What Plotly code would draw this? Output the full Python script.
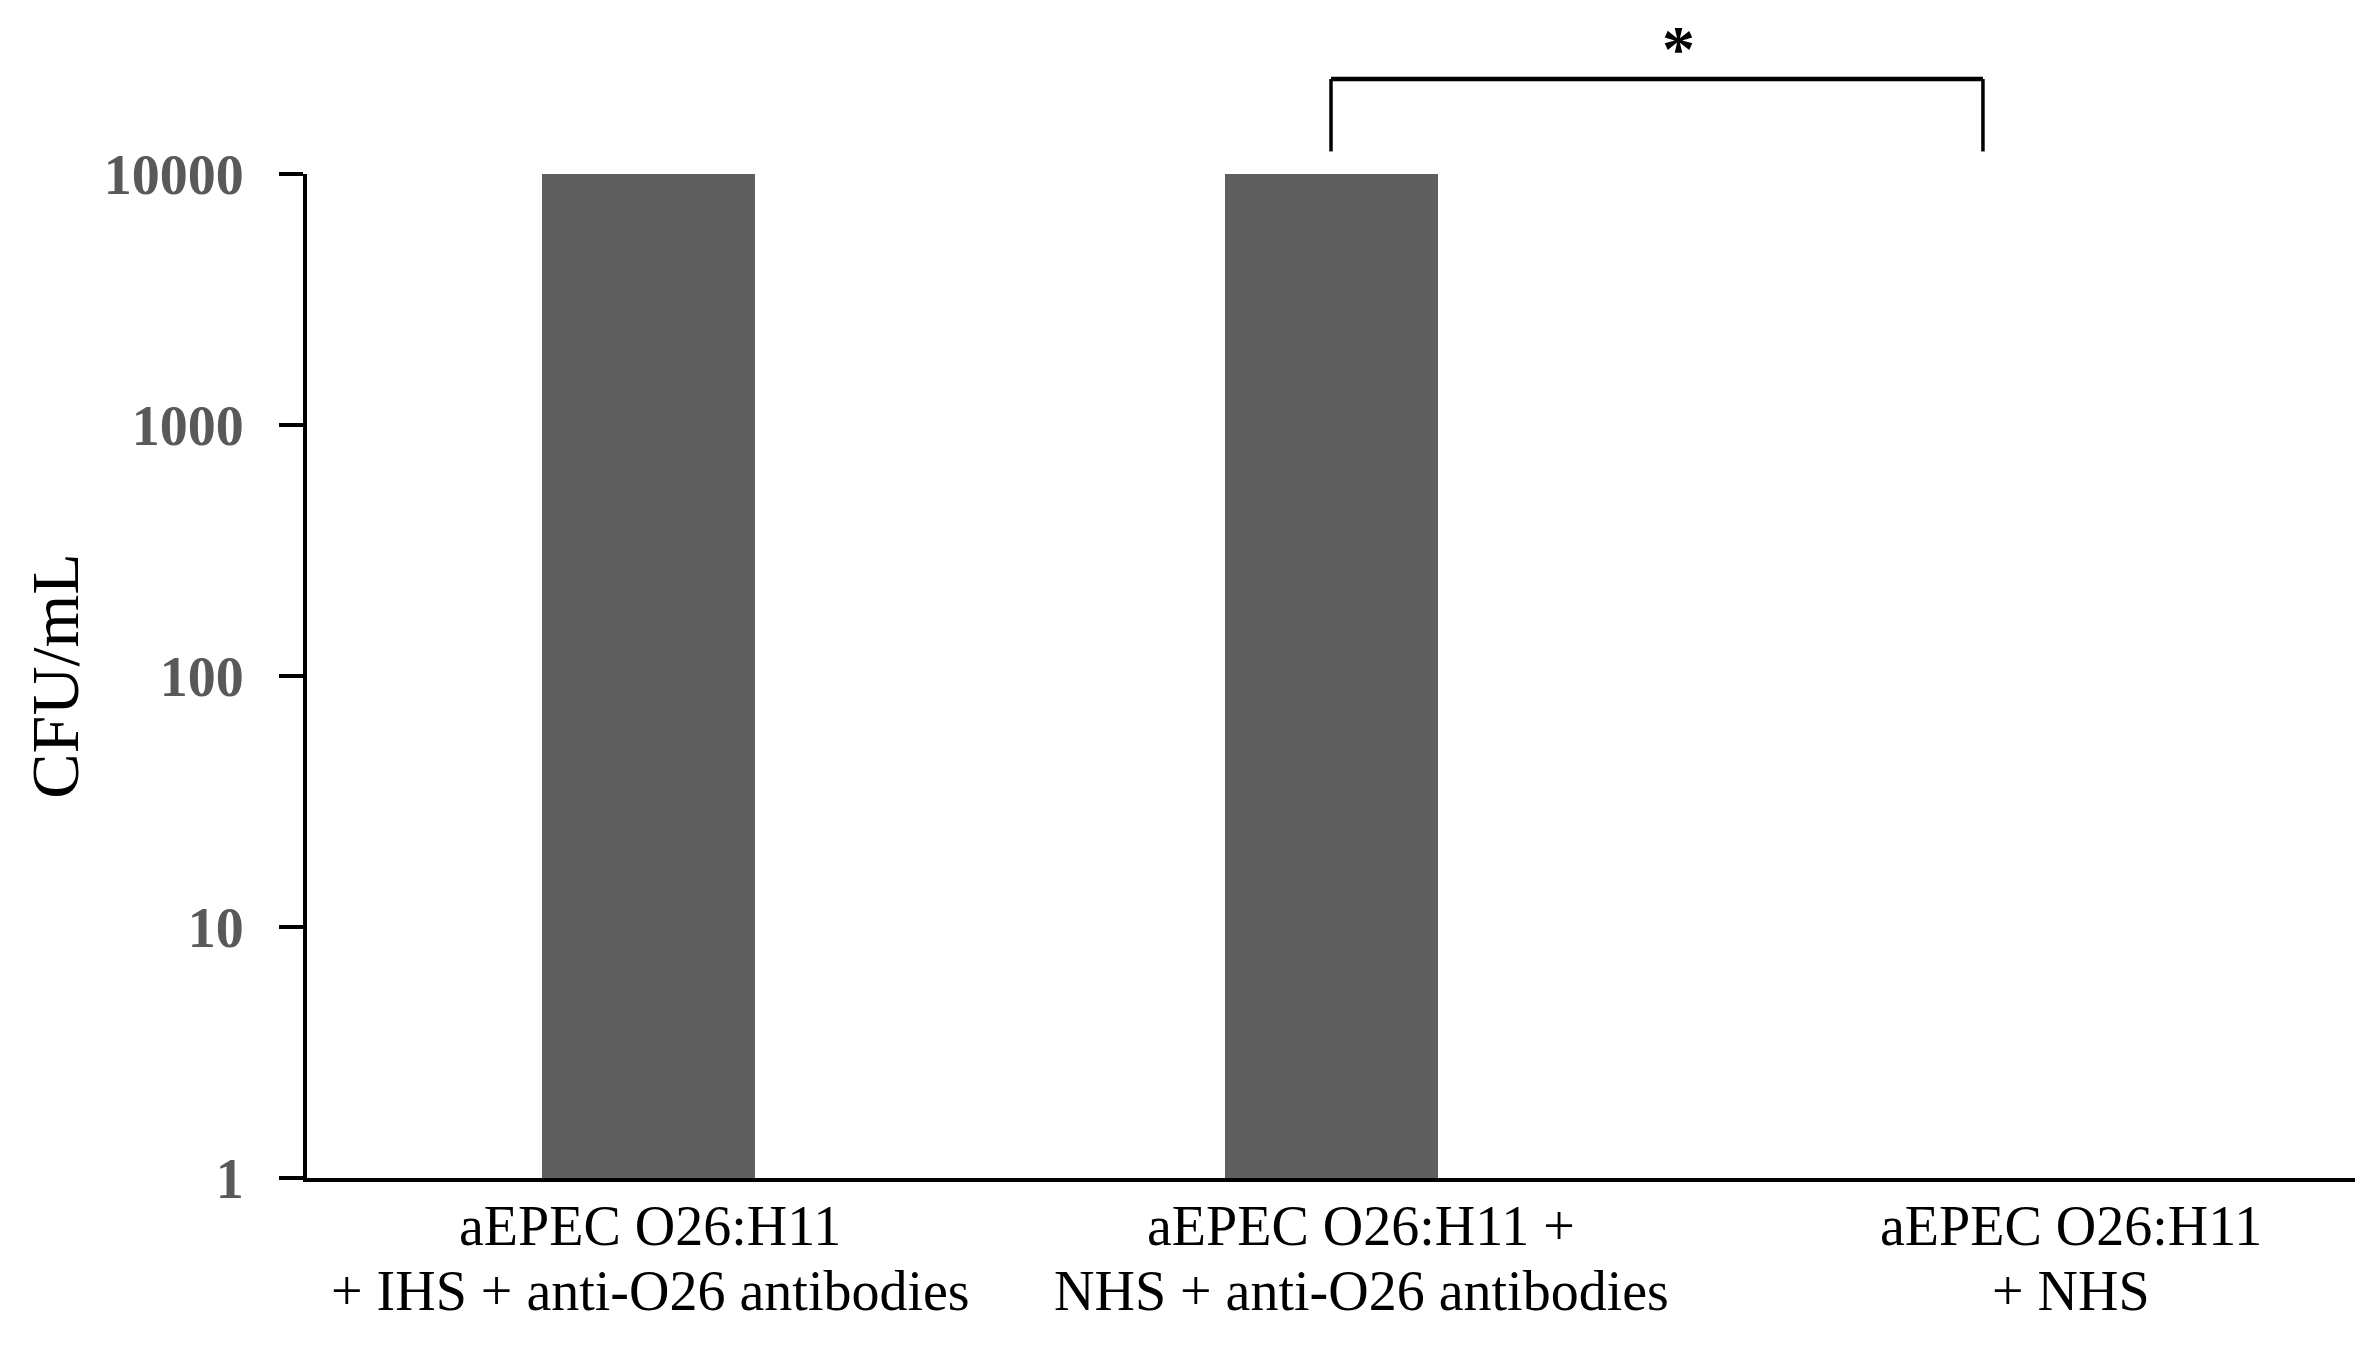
import math
import plotly.graph_objects as go

label_lines = [["aEPEC O26:H11", "+ IHS + anti-O26 antibodies"],
               ["aEPEC O26:H11 +", "NHS + anti-O26 antibodies"],
               ["aEPEC O26:H11", "+ NHS"]]
cfu_values = [10000, 10000, 0]
y_tick_vals = [1, 10, 100, 1000, 10000]
y_tick_text = ["1", "10", "100", "1000", "10000"]
bracket_x = [1.0, 1.955]          # category positions (index units)
bracket_y = [12300, 23900]        # bottom / top of bracket, CFU/mL
star_y = 31500
sig_label = "*"

# styling
label_xshift = [2, 30, 57]
line_yshift = [-48, -113]
Y_LOG_MIN, Y_LOG_MAX = 0, 4


def to_paper(v):
    return (math.log10(v) - Y_LOG_MIN) / (Y_LOG_MAX - Y_LOG_MIN)


x_idx = list(range(len(label_lines)))

fig = go.Figure()
fig.add_trace(go.Bar(
    x=x_idx, y=cfu_values, width=0.312,
    marker=dict(color="#5f5f5f", line=dict(width=0)),
    showlegend=False,
))

ylo, yhi = to_paper(bracket_y[0]), to_paper(bracket_y[1])
vline = dict(color="#000000", width=3.5)
fig.add_shape(type="line", xref="x", yref="paper", x0=bracket_x[0], x1=bracket_x[0], y0=ylo, y1=yhi, line=vline)
fig.add_shape(type="line", xref="x", yref="paper", x0=bracket_x[1], x1=bracket_x[1], y0=ylo, y1=yhi, line=vline)
fig.add_shape(type="line", xref="x", yref="paper", x0=bracket_x[0], x1=bracket_x[1], y0=yhi, y1=yhi,
              line=dict(color="#000000", width=4.5))

fig.add_annotation(x=sum(bracket_x) / 2, y=to_paper(star_y), xref="x", yref="paper",
                   text="<b>" + sig_label + "</b>", showarrow=False, yanchor="middle", xshift=22,
                   font=dict(family="Liberation Serif", size=66, color="#000000"))

for i, lines in enumerate(label_lines):
    for j, txt in enumerate(lines):
        fig.add_annotation(x=i, y=0, xref="x", yref="paper", text=txt,
                           showarrow=False, xanchor="center", yanchor="middle",
                           xshift=label_xshift[i], yshift=line_yshift[j],
                           font=dict(family="Liberation Serif", size=56, color="#000000"))

fig.update_layout(
    width=2379, height=1350,
    paper_bgcolor="white", plot_bgcolor="white",
    margin=dict(l=299, r=32, t=166, b=180),
    bargap=0,
    font=dict(family="Liberation Serif"),
)
fig.update_xaxes(
    tickmode="array", tickvals=x_idx, ticktext=["", "", ""],
    range=[-0.5, 2.5], showgrid=False, zeroline=False, automargin=False,
    showline=True, linecolor="#000000", linewidth=4,
    ticks="",
)
fig.update_yaxes(
    type="log", range=[Y_LOG_MIN, Y_LOG_MAX], automargin=False,
    tickmode="array", tickvals=y_tick_vals, ticktext=y_tick_text,
    showgrid=False, zeroline=False,
    showline=True, linecolor="#000000", linewidth=4,
    ticks="outside", ticklen=24, tickwidth=4, tickcolor="#000000",
    ticklabelstandoff=24,
    tickfont=dict(family="Liberation Serif", size=56, color="#595959", weight="bold"),
    title=dict(text="CFU/mL", standoff=4,
               font=dict(family="Liberation Serif", size=68, color="#000000")),
)

fig.write_html("out.html")
